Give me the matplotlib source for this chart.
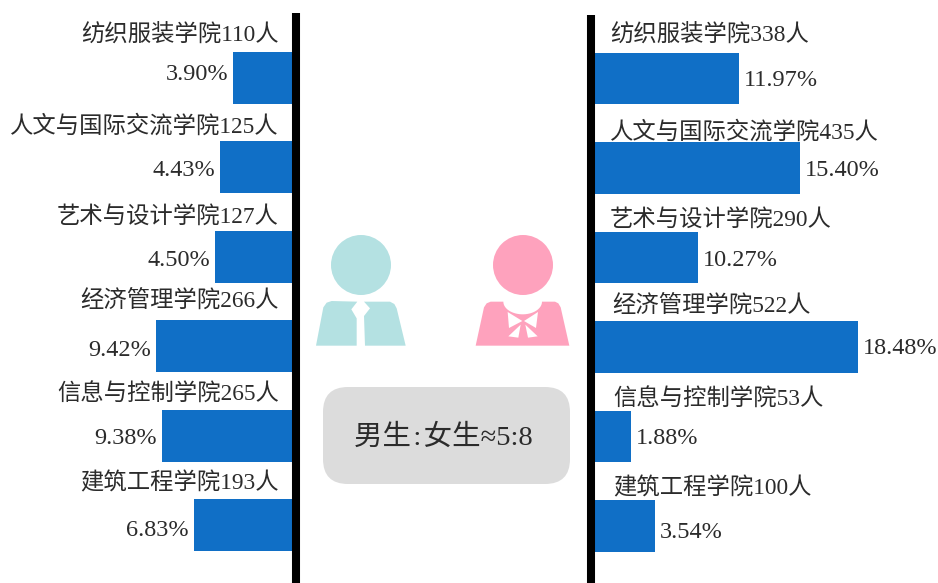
import numpy as np
import matplotlib
matplotlib.use("Agg")
import matplotlib.pyplot as plt
from matplotlib.patches import Circle, FancyBboxPatch, Polygon

plt.rcParams["font.family"] = ["Liberation Serif", "Noto Sans CJK SC", "DejaVu Sans"]

colleges = ["纺织服装学院", "人文与国际交流学院", "艺术与设计学院", "经济管理学院", "信息与控制学院", "建筑工程学院"]
male_count = [110, 125, 127, 266, 265, 193]
female_count = [338, 435, 290, 522, 53, 100]
male_pct = ["3.90%", "4.43%", "4.50%", "9.42%", "9.38%", "6.83%"]
female_pct = ["11.97%", "15.40%", "10.27%", "18.48%", "1.88%", "3.54%"]
# the picture's bars are not to scale with the printed percentages, so lengths are read off separately
male_bar = [59, 72, 77, 136, 130, 98]
female_bar = [144, 205, 103, 263, 36, 60]

BLUE = "#106fc6"
TEXT = "#2b2b2b"
W, H = 938, 583

fig = plt.figure(figsize=(W / 100, H / 100), dpi=100)

# text rows are not evenly spaced in the original
male_name_y = [36, 126, 217, 301, 395, 483]
female_name_y = [36, 132, 220, 306, 400, 488]
female_name_x = [610, 610, 610, 612, 613, 613]
male_pct_y = [75, 171, 260, 350, 438, 530]
female_pct_y = [80, 171, 260, 349, 439, 532]

ax_l = fig.add_axes([0, 0, 292 / W, 1])
ax_l.barh(range(6), male_bar, height=0.58, color=BLUE)
ax_l.set_xlim(292, 0)
ax_l.set_ylim((583 - 78) / 89.4, -78 / 89.4)
ax_l.axis("off")

ax_r = fig.add_axes([595 / W, 0, (W - 595) / W, 1])
ax_r.barh(range(6), female_bar, height=0.58, color=BLUE)
ax_r.set_xlim(0, W - 595)
ax_r.set_ylim((583 - 78.5) / 89.5, -78.5 / 89.5)
ax_r.axis("off")

# overlay in pixel coordinates for the text and the decoration
ax = fig.add_axes([0, 0, 1, 1], facecolor="none")
ax.set_xlim(0, W)
ax.set_ylim(H, 0)
ax.axis("off")

ax.vlines(296, 13, H, color="black", lw=5.8)
ax.vlines(591, 15, H, color="black", lw=5.8)

for i in range(6):
    ax.text(279, male_name_y[i], f"{colleges[i]}{male_count[i]}人", ha="right", va="center",
            fontsize=16.8, color=TEXT)
    ax.text(292 - male_bar[i] - 5, male_pct_y[i], male_pct[i], ha="right", va="center",
            fontsize=17.5, color=TEXT)
    ax.text(female_name_x[i], female_name_y[i], f"{colleges[i]}{female_count[i]}人", ha="left", va="center",
            fontsize=16.8, color=TEXT)
    ax.text(595 + female_bar[i] + 5, female_pct_y[i], female_pct[i], ha="left", va="center",
            fontsize=17.5, color=TEXT)


def zoomed(points):
    # outlines were traced on a 3x crop starting at (300, 220)
    return [(300 + x / 3, 220 + y / 3) for x, y in points]


TEAL = "#b4e1e2"
PINK = "#fea2bd"

ax.add_patch(Circle((361, 265), 30, color=TEAL, lw=0))
ax.add_patch(Polygon(zoomed([(48, 377), (170, 377), (170, 295), (154, 268), (172, 245),
                             (95, 243), (80, 248), (70, 262)]), color=TEAL, lw=0))
ax.add_patch(Polygon(zoomed([(195, 377), (317, 377), (290, 265), (283, 252), (270, 245), (192, 245),
                             (210, 265), (192, 288)]), color=TEAL, lw=0))

ax.add_patch(Circle((523, 265), 30, color=PINK, lw=0))
t = np.linspace(np.pi, 0, 30)
neck = [(668 + 58 * np.cos(a), 245 + 38 * np.sin(a)) for a in t]
body = [(527, 377), (552, 262), (560, 250), (572, 245)] + neck + [(765, 245), (775, 250), (782, 262), (808, 377)]
ax.add_patch(Polygon(zoomed(body), color=PINK, lw=0))
for bow in [[(623, 276), (667, 303), (627, 324)],
            [(714, 276), (672, 303), (708, 324)],
            [(662, 314), (625, 349), (655, 353)],
            [(676, 314), (713, 349), (684, 353)]]:
    ax.add_patch(Polygon(zoomed(bow), color="white", lw=0))

ax.add_patch(FancyBboxPatch((348, 412), 197, 47, boxstyle="round,pad=25,rounding_size=25",
                            fc="#dcdcdc", ec="none"))
ax.text(443.5, 438, "男生\u200a:\u200a女生≈5:8", ha="center", va="center", fontsize=20.5, color=TEXT)

fig.savefig("out.png", dpi=100)
